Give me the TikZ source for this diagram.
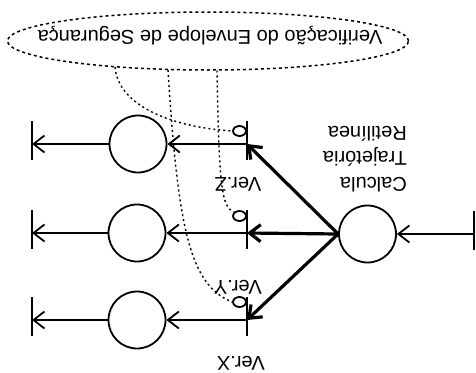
\documentclass[tikz,border=0pt]{standalone}
\usepackage{fontspec}
\setmainfont{Liberation Sans}
\usetikzlibrary{arrows.meta,shapes.geometric}
\begin{document}
\begin{tikzpicture}[x=1pt,y=-1pt,
  arr/.style={-{Straight Barb[length=11pt,width=17pt]}},
  lnthin/.style={line width=1.8pt},
  lnthick/.style={line width=3.2pt},
  unit/.style={circle,draw,line width=1.8pt,minimum size=57pt,inner sep=0pt},
  probe/.style={ellipse,draw,line width=1.8pt,minimum width=13pt,minimum height=10pt,inner sep=0pt},
  dotline/.style={line width=1.4pt,dash pattern=on 2pt off 3pt},
  envstyle/.style={ellipse,draw,line width=1.5pt,dash pattern=on 3pt off 3pt,minimum width=401pt,minimum height=58pt,inner sep=0pt},
  txt/.style={rotate=180,inner sep=0pt,font=\fontsize{20}{25.5}\selectfont},
  barline/.style={line width=1.8pt}
]
\useasboundingbox (0,0) rectangle (476,372);

% envelope
\node[envstyle] (env) at (208,41) {};
\node[txt] (title) at (210,36) {Verificação do Envelope de Segurança};

% units
\node[unit] (c1) at (138,144) {};
\node[unit] (c2) at (137,233) {};
\node[unit] (c3) at (137,320) {};
\node[unit] (calc) at (367.5,234) {};

% branch points
\coordinate (b1) at (247,144);
\coordinate (b2) at (247,233);
\coordinate (b3) at (247,320);
\coordinate (o1) at (32,144);
\coordinate (o2) at (32,233);
\coordinate (o3) at (32,320);
\coordinate (in) at (474,234);

% bars
\foreach \p in {b1,b2,b3,o1,o2,o3,in}{
  \draw[barline] (\p) ++(0,-23) -- ++(0,39);
}

% input
\draw[lnthin,arr] (in) -- (calc.east);

% thick links
\draw[lnthick,arr] (calc.west) -- (b1);
\draw[lnthick,arr] (calc.west) -- (b2);
\draw[lnthick,arr] (calc.west) -- (b3);

% thin links
\draw[lnthin,arr] (b1) -- (c1.east);
\draw[lnthin,arr] (b2) -- (c2.east);
\draw[lnthin,arr] (b3) -- (c3.east);
\draw[lnthin,arr] (c1.west) -- (o1);
\draw[lnthin,arr] (c2.west) -- (o2);
\draw[lnthin,arr] (c3.west) -- (o3);

% probes
\node[probe] (p1) at (239.5,131) {};
\node[probe] (p2) at (239.5,216) {};
\node[probe] (p3) at (239.5,302) {};

% dotted connectors
\coordinate (e1) at (115,67);
\coordinate (e2) at (168,70);
\coordinate (e3) at (217,70.5);
\draw[dotline] (e1) .. controls (118,105) and (170,127) .. (p1.west);
\draw[dotline] (e2) .. controls (178,230) and (190,285) .. (p3.west);
\draw[dotline] (e3) .. controls (219,190) and (222,208) .. (p2.north west);

% labels
\node[txt,align=left,anchor=west] (calcl) at (407,159) {Calcula\\Trajetória\\Retilínea};
\node[txt] (vz) at (238,184) {Ver.Z};
\node[txt] (vy) at (238,287) {Ver.Y};
\node[txt] (vx) at (241,363) {Ver.X};
\end{tikzpicture}
\end{document}
